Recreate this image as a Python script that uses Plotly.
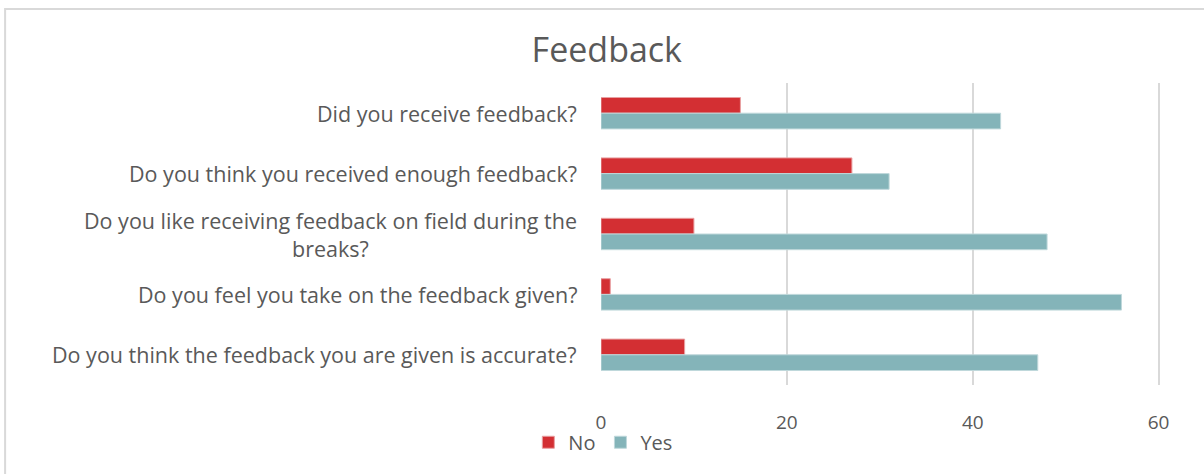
import plotly.graph_objects as go

questions = [
    "Did you receive feedback?",
    "Do you think you received enough feedback?",
    "Do you like receiving feedback on field during the<br>breaks?",
    "Do you feel you take on the feedback given?",
    "Do you think the feedback you are given is accurate?",
]
no_counts = [15, 27, 10, 1, 9]
yes_counts = [43, 31, 48, 56, 47]

FONT = "Open Sans"
GREY = "#595959"

fig = go.Figure()
fig.add_trace(go.Bar(y=questions, x=no_counts, name="No", orientation="h",
                     marker=dict(color="#D32F33", line=dict(color="#E8A0A2", width=1))))
fig.add_trace(go.Bar(y=questions, x=yes_counts, name="Yes", orientation="h",
                     marker=dict(color="#84B4B9", line=dict(color="#BFD8DB", width=1))))

# category labels as annotations so the wrapped one is centred like the original
for q in questions:
    fig.add_annotation(x=0, xref="paper", y=q, yref="y", text=q, showarrow=False,
                       xanchor="right", xshift=-22, align="center",
                       font=dict(family=FONT, size=21.5, color=GREY))

# outer chart border (runs off the right and bottom edges)
fig.add_shape(type="rect", xref="paper", yref="paper", x0=-1.066, x1=1.3, y0=-0.5, y1=1.245,
              line=dict(color="#D9D9D9", width=2), layer="below")

fig.update_layout(
    width=1204, height=474,
    margin=dict(l=601, r=44, t=83, b=79),
    paper_bgcolor="white", plot_bgcolor="white",
    barmode="group", bargap=0.48, bargroupgap=0,
    title=dict(text="Feedback", x=0.504, xanchor="center", y=0.895, yanchor="middle",
               font=dict(family=FONT, size=34, color=GREY)),
    font=dict(family=FONT, color=GREY),
    legend=dict(orientation="h", x=-0.13, xanchor="left", y=-0.125, yanchor="top",
                font=dict(family=FONT, size=20, color=GREY), itemwidth=30,
                bgcolor="rgba(0,0,0,0)"),
    showlegend=True,
)
fig.update_xaxes(range=[0, 60.15], tickvals=[0, 20, 40, 60], showgrid=True,
                 gridcolor="#D9D9D9", gridwidth=2,
                 zeroline=False, showline=False, ticks="", ticklabelstandoff=24,
                 tickfont=dict(family=FONT, size=19, color=GREY))
fig.update_yaxes(autorange="reversed", showticklabels=False, showline=False, ticks="",
                 showgrid=False)

fig.write_html("out.html", config={"displayModeBar": False},
               post_script="document.body.style.margin='0';")
